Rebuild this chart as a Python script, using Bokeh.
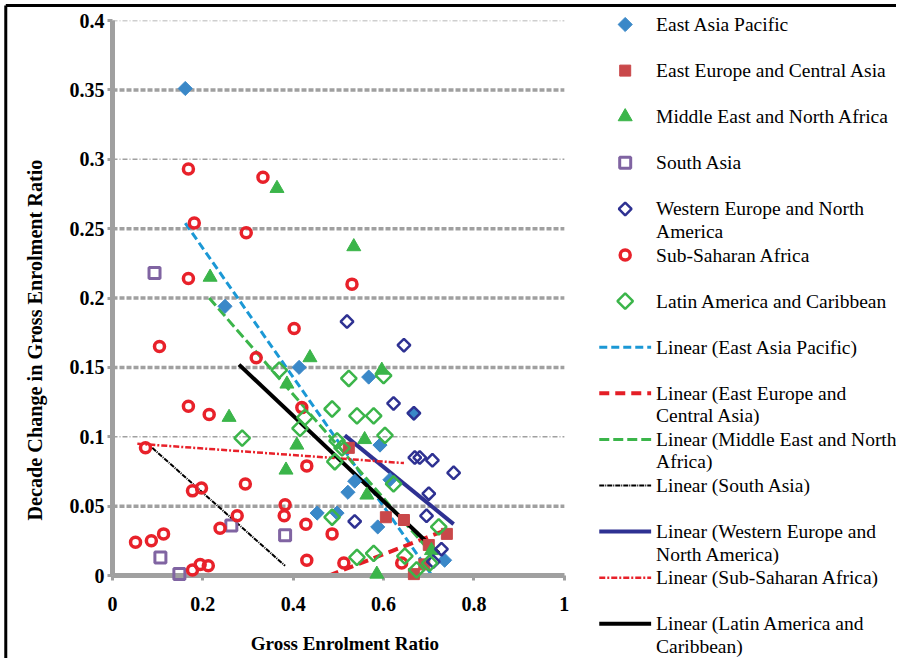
import math
from bokeh.plotting import figure
from bokeh.models import Range1d, FixedTicker, NumeralTickFormatter, Title
from bokeh.core.properties import value
from bokeh.embed import file_html
from bokeh.resources import INLINE

# ---------------- data ----------------
x_ticks = [0, 0.2, 0.4, 0.6, 0.8, 1.0]
y_ticks = [0, 0.05, 0.1, 0.15, 0.2, 0.25, 0.3, 0.35, 0.4]
grid_thick = [0.05, 0.15, 0.2, 0.25, 0.35]
grid_thin = [0.1, 0.3, 0.4]

eap_x = [0.161, 0.249, 0.413, 0.567, 0.453, 0.497, 0.521, 0.536, 0.587, 0.592, 0.614, 0.667, 0.735]
eap_y = [0.351, 0.194, 0.150, 0.143, 0.045, 0.045, 0.060, 0.068, 0.035, 0.094, 0.069, 0.117, 0.011]

eeca_x = [0.523, 0.605, 0.645, 0.667, 0.740, 0.700, 0.690]
eeca_y = [0.092, 0.042, 0.040, 0.001, 0.030, 0.022, 0.008]

mena_x = [0.364, 0.216, 0.534, 0.437, 0.386, 0.258, 0.408, 0.384, 0.596, 0.558, 0.563, 0.585, 0.706]
mena_y = [0.279, 0.215, 0.237, 0.157, 0.138, 0.114, 0.094, 0.076, 0.148, 0.098, 0.058, 0.001, 0.018]

sa_x = [0.093, 0.106, 0.148, 0.263, 0.382]
sa_y = [0.218, 0.013, 0.001, 0.036, 0.029]

wena_x = [0.519, 0.645, 0.622, 0.667, 0.669, 0.680, 0.708, 0.755, 0.700, 0.695, 0.536, 0.728, 0.710]
wena_y = [0.183, 0.166, 0.124, 0.117, 0.085, 0.085, 0.083, 0.074, 0.059, 0.043, 0.039, 0.019, 0.010]

ssa_x = [0.168, 0.333, 0.181, 0.296, 0.530, 0.168, 0.402, 0.104, 0.318, 0.168, 0.214, 0.419,
         0.073, 0.177, 0.197, 0.294, 0.430, 0.382, 0.380, 0.276, 0.238, 0.051, 0.086, 0.113,
         0.177, 0.194, 0.212, 0.428, 0.430, 0.486, 0.512, 0.640]
ssa_y = [0.293, 0.287, 0.254, 0.247, 0.210, 0.214, 0.178, 0.165, 0.157, 0.122, 0.116, 0.121,
         0.092, 0.061, 0.063, 0.066, 0.079, 0.051, 0.043, 0.043, 0.034, 0.024, 0.025, 0.030,
         0.004, 0.008, 0.007, 0.037, 0.011, 0.030, 0.009, 0.009]

lac_x = [0.369, 0.523, 0.600, 0.486, 0.541, 0.578, 0.603, 0.426, 0.415, 0.287, 0.492, 0.497,
         0.508, 0.622, 0.722, 0.541, 0.578, 0.647, 0.673, 0.702, 0.486]
lac_y = [0.148, 0.142, 0.144, 0.120, 0.115, 0.115, 0.101, 0.114, 0.106, 0.099, 0.082, 0.097,
         0.092, 0.066, 0.035, 0.013, 0.016, 0.014, 0.004, 0.009, 0.042]

# linear trend lines (end points)
eap_fit_x, eap_fit_y = [0.161, 0.707], [0.254, 0.0]
eeca_fit_x, eeca_fit_y = [0.479, 0.740], [0.0, 0.033]
mena_fit_x, mena_fit_y = [0.214, 0.706], [0.200, 0.016]
sa_fit_x, sa_fit_y = [0.088, 0.382], [0.092, 0.007]
wena_fit_x, wena_fit_y = [0.514, 0.755], [0.101, 0.037]
ssa_fit_x, ssa_fit_y = [0.055, 0.645], [0.095, 0.081]
lac_fit_x, lac_fit_y = [0.280, 0.722], [0.152, 0.016]

x_title = "Gross Enrolment Ratio"
y_title = "Decade Change in Gross Enrolment Ratio"
labels = ["East Asia Pacific", "East Europe and Central Asia", "Middle East and North Africa",
          "South Asia", "Western Europe and North\nAmerica", "Sub-Saharan Africa",
          "Latin America and Caribbean"]
fit_labels = ["Linear (East Asia Pacific)", "Linear (East Europe and\nCentral Asia)",
              "Linear (Middle East and North\nAfrica)", "Linear (South Asia)",
              "Linear (Western Europe and\nNorth America)", "Linear (Sub-Saharan Africa)",
              "Linear (Latin America and\nCaribbean)"]

# ---------------- styling ----------------
SERIF = "Liberation Serif"
GRAY = "#A0A0A0"
C_EAP, C_EECA, C_MENA, C_SA = "#3A88C8", "#C9484A", "#3BB54A", "#8064A2"
C_WENA, C_SSA, C_LAC = "#2E3192", "#E8212A", "#3BB54A"
D = math.pi / 4
W, H = 896, 658
FL, FR, FT, FB = 110, 563, 20, 575          # pixel positions of x=0, x=1, y=0.4, y=0

scatter_styles = [
    dict(marker="square", angle=D, size=10, fill_color=C_EAP, line_color=C_EAP),
    dict(marker="square", size=11, fill_color=C_EECA, line_color=C_EECA),
    dict(marker="triangle", size=14, fill_color=C_MENA, line_color=C_MENA),
    dict(marker="square", size=11, fill_alpha=0, line_color=C_SA, line_width=3),
    dict(marker="square", angle=D, size=9, fill_alpha=0, line_color=C_WENA, line_width=2.5),
    dict(marker="circle", size=10, fill_alpha=0, line_color=C_SSA, line_width=3.5),
    dict(marker="square", angle=D, size=11, fill_alpha=0, line_color=C_LAC, line_width=2.5),
]
line_styles = [
    dict(line_color="#1B98D5", line_width=3, line_dash="8 4"),
    dict(line_color="#E41E26", line_width=4, line_dash="10 6"),
    dict(line_color="#3BB54A", line_width=3, line_dash="10 4"),
    dict(line_color="black", line_width=2, line_dash="5 1 1 1"),
    dict(line_color="#2E3192", line_width=4),
    dict(line_color="#E8212A", line_width=2.5, line_dash="6 2 2 2"),
    dict(line_color="black", line_width=4),
]

X0, X1, Y0, Y1 = 0.0, 1.0, 0.0, 0.4
X_END = X0 + (W - FL) * (X1 - X0) / (FR - FL)   # frame also hosts the legend on the right

p = figure(width=W, height=H, output_backend="svg", toolbar_location=None,
           x_range=Range1d(X0, X_END), y_range=Range1d(Y0, Y1),
           min_border_left=FL, min_border_right=0, min_border_top=FT, min_border_bottom=H - FB)
p.outline_line_color = None
p.background_fill_color = "white"
p.grid.visible = False

# horizontal gridlines across the 0..1 data area only
p.segment(x0=X0, x1=X1, y0=grid_thick, y1=grid_thick, line_color=GRAY, line_width=3.5,
          line_dash="5 2", level="underlay")
p.segment(x0=X0, x1=X1, y0=grid_thin, y1=grid_thin, line_color=GRAY, line_width=1.5,
          line_dash="5 2 1 2", level="underlay")

p.xaxis.ticker = FixedTicker(ticks=x_ticks)
p.yaxis.ticker = FixedTicker(ticks=y_ticks)
p.xaxis.bounds = (X0, X1)
for ax in (p.xaxis[0], p.yaxis[0]):
    ax.formatter = NumeralTickFormatter(format="0.[00]")
    ax.axis_line_color = GRAY
    ax.axis_line_width = 5
    ax.major_tick_line_color = GRAY
    ax.major_tick_line_width = 3
    ax.major_tick_out = 5
    ax.major_tick_in = 0
    ax.minor_tick_line_color = None
    ax.major_label_text_font = SERIF
    ax.major_label_text_font_style = "bold"
    ax.major_label_text_font_size = "20px"
    ax.major_label_text_color = "black"
p.yaxis.major_label_standoff = 3
p.xaxis.major_label_standoff = 16

p.add_layout(Title(text=y_title, align="left", offset=55,
                   standoff=42, text_font=SERIF, text_font_style="bold",
                   text_font_size="20.2px", text_color="black"), "left")

series = [(eap_x, eap_y), (eeca_x, eeca_y), (mena_x, mena_y), (sa_x, sa_y),
          (wena_x, wena_y), (ssa_x, ssa_y), (lac_x, lac_y)]
fits = [(eap_fit_x, eap_fit_y), (eeca_fit_x, eeca_fit_y), (mena_fit_x, mena_fit_y),
        (sa_fit_x, sa_fit_y), (wena_fit_x, wena_fit_y), (ssa_fit_x, ssa_fit_y),
        (lac_fit_x, lac_fit_y)]

for (fx, fy), st in zip(fits, line_styles):
    p.line(fx, fy, **st)
for (sx, sy), st in zip(series, scatter_styles):
    p.scatter(sx, sy, level="overlay", **st)

# ---------------- pixel layout converted to data units ----------------
def to_x(px):
    return X0 + (px - FL) * (X1 - X0) / (FR - FL)

def to_y(py):
    return Y0 + (FB - py) * (Y1 - Y0) / (FB - FT)

# x-axis title, centred under the 0..1 axis
p.text([to_x(343)], [to_y(643)], text=[x_title], text_font=value(SERIF),
       text_font_size="19px", text_font_style="bold", text_color="black",
       text_align="center", text_baseline="middle", level="overlay")

# legend
SLOT0, PITCH, LINE_GAP = 24, 46.1, 22.5
MARK_PX, SAMPLE_PX, TEXT_PX = 624, (598, 650), 655

txt_x, txt_y, txt_s = [], [], []
for i, lab in enumerate(labels + fit_labels):
    for k, part in enumerate(lab.split("\n")):
        txt_x.append(to_x(TEXT_PX))
        txt_y.append(to_y(SLOT0 + PITCH * i + LINE_GAP * k))
        txt_s.append(part)

for i, st in enumerate(scatter_styles):
    p.scatter([to_x(MARK_PX)], [to_y(SLOT0 + PITCH * i)], level="overlay", **st)
for j, st in enumerate(line_styles):
    yy = to_y(SLOT0 + PITCH * (len(labels) + j))
    p.line([to_x(SAMPLE_PX[0]), to_x(SAMPLE_PX[1])], [yy, yy], level="overlay", **st)

p.text(txt_x, txt_y, text=txt_s, text_font=value(SERIF), text_font_size="19.5px",
       text_color="black", text_align="left", text_baseline="middle", level="overlay")

# outer frame of the original figure (top and left edges)
p.line([to_x(3), to_x(W + 2)], [to_y(5), to_y(5)], line_color="black", line_width=3, level="overlay")
p.line([to_x(3), to_x(3)], [to_y(5), to_y(H + 2)], line_color="black", line_width=3, level="overlay")

open("out.html", "w").write(file_html(p, INLINE))
